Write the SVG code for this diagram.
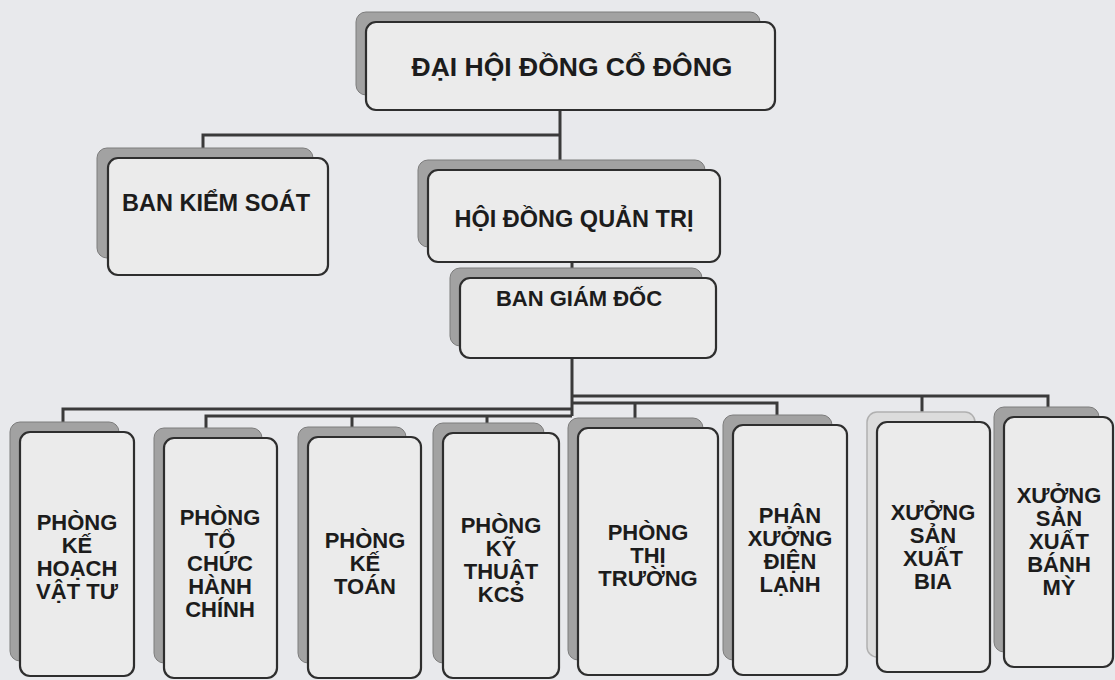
<svg xmlns="http://www.w3.org/2000/svg" width="1115" height="680" viewBox="0 0 1115 680">
<style>
.bg{fill:#e8e9ec}
.sh{fill:#a2a2a2;stroke:#7c7c7c;stroke-width:1}
.shl{fill:#dcdcdc;stroke:#b0b0b0;stroke-width:1.5}
.fr{fill:#ebebeb;stroke:#2e2e2e;stroke-width:2.2}
.t{font-family:"Liberation Sans",Arial,sans-serif;font-weight:bold;fill:#1c1c1c;text-anchor:middle}
.t26{font-size:26.5px}
.t23{font-size:23.5px}
.t22{font-size:22px}
.cn{fill:none;stroke:#3a3a3a;stroke-width:3}
</style>
<rect class="bg" x="0" y="0" width="1115" height="680"/>
<g id="connectors">
<path class="cn" d="M560 110 V160 M560 135 H203 V148"/>
<path class="cn" d="M572 262 V268"/>
<path class="cn" d="M572 358 V416"/>
<path class="cn" d="M572 396 H1048 V407 M922 396 V412"/>
<path class="cn" d="M572 403 H777 V415 M635 403 V418"/>
<path class="cn" d="M572 409 H63 V422"/>
<path class="cn" d="M572 416 H206 V428 M352 416 V427 M487 416 V423"/>
</g>
<g id="dhdcd">
<rect class="sh" x="356" y="12" width="404" height="83" rx="10"/>
<rect class="fr" x="366" y="22" width="409" height="88" rx="10"/>
<text class="t t26" x="572" y="76">ĐẠI HỘI ĐỒNG CỔ ĐÔNG</text>
</g>
<g id="bks">
<rect class="sh" x="97" y="148" width="216" height="110" rx="10"/>
<rect class="fr" x="108" y="158" width="220" height="117" rx="10"/>
<text class="t t23" x="216" y="211">BAN KIỂM SOÁT</text>
</g>
<g id="hdqt">
<rect class="sh" x="418" y="160" width="287" height="87" rx="10"/>
<rect class="fr" x="428" y="170" width="292" height="92" rx="10"/>
<text class="t t23" x="574" y="227">HỘI ĐỒNG QUẢN TRỊ</text>
</g>
<g id="bgd">
<rect class="sh" x="450" y="268" width="252" height="78" rx="10"/>
<rect class="fr" x="460" y="278" width="256" height="80" rx="10"/>
<text class="t t22" x="579" y="306">BAN GIÁM ĐỐC</text>
</g>
<g id="p1">
<rect class="sh" x="10" y="422" width="109" height="239" rx="10"/>
<rect class="fr" x="20" y="432" width="114" height="244" rx="10"/>
<text class="t t22" x="77" y="530">PHÒNG<tspan x="77" dy="23">KẾ</tspan><tspan x="77" dy="23">HOẠCH</tspan><tspan x="77" dy="23">VẬT TƯ</tspan></text>
</g>
<g id="p2">
<rect class="sh" x="154" y="428" width="108" height="235" rx="10"/>
<rect class="fr" x="164" y="438" width="113" height="240" rx="10"/>
<text class="t t22" x="220" y="525">PHÒNG<tspan x="220" dy="23">TỔ</tspan><tspan x="220" dy="23">CHỨC</tspan><tspan x="220" dy="23">HÀNH</tspan><tspan x="220" dy="23">CHÍNH</tspan></text>
</g>
<g id="p3">
<rect class="sh" x="298" y="427" width="108" height="236" rx="10"/>
<rect class="fr" x="308" y="437" width="113" height="241" rx="10"/>
<text class="t t22" x="365" y="548">PHÒNG<tspan x="365" dy="23">KẾ</tspan><tspan x="365" dy="23">TOÁN</tspan></text>
</g>
<g id="p4">
<rect class="sh" x="433" y="423" width="111" height="240" rx="10"/>
<rect class="fr" x="443" y="433" width="116" height="245" rx="10"/>
<text class="t t22" x="501" y="533">PHÒNG<tspan x="501" dy="23">KỸ</tspan><tspan x="501" dy="23">THUẬT</tspan><tspan x="501" dy="23">KCS̉</tspan></text>
</g>
<g id="p5">
<rect class="sh" x="568" y="418" width="135" height="242" rx="10"/>
<rect class="fr" x="578" y="428" width="140" height="247" rx="10"/>
<text class="t t22" x="648" y="540">PHÒNG<tspan x="648" dy="23">THỊ</tspan><tspan x="648" dy="23">TRƯỜNG</tspan></text>
</g>
<g id="p6">
<rect class="sh" x="723" y="415" width="109" height="245" rx="10"/>
<rect class="fr" x="733" y="425" width="114" height="250" rx="10"/>
<text class="t t22" x="790" y="523">PHÂN<tspan x="790" dy="23">XƯỞNG</tspan><tspan x="790" dy="23">ĐIỆN</tspan><tspan x="790" dy="23">LẠNH</tspan></text>
</g>
<g id="p7">
<rect class="shl" x="867" y="412" width="108" height="245" rx="10"/>
<rect class="fr" x="877" y="422" width="113" height="250" rx="10"/>
<text class="t t22" x="933" y="520">XƯỞNG<tspan x="933" dy="23">SẢN</tspan><tspan x="933" dy="23">XUẤT</tspan><tspan x="933" dy="23">BIA</tspan></text>
</g>
<g id="p8">
<rect class="sh" x="994" y="407" width="105" height="245" rx="10"/>
<rect class="fr" x="1004" y="417" width="109" height="250" rx="10"/>
<text class="t t22" x="1059" y="503">XƯỞNG<tspan x="1059" dy="23">SẢN</tspan><tspan x="1059" dy="23">XUẤT</tspan><tspan x="1059" dy="23">BÁNH</tspan><tspan x="1059" dy="23">MỲ</tspan></text>
</g>
</svg>
